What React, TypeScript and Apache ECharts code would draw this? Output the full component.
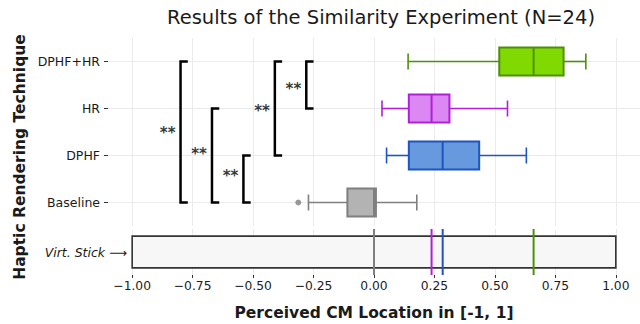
import React, { useEffect, useRef } from 'react';
import * as echarts from 'echarts';

// ---- data ----
const categories = ['Baseline', 'DPHF', 'HR', 'DPHF+HR'];
const whiskerLow = [-0.271, 0.052, 0.033, 0.141];
const quartile1 = [-0.11, 0.144, 0.144, 0.518];
const medians = [0.0, 0.284, 0.238, 0.66];
const quartile3 = [0.008, 0.435, 0.312, 0.784];
const whiskerHigh = [0.177, 0.63, 0.552, 0.876];
const outlierValues = [-0.313];
const outlierCategory = [0];
const xTicks = [-1, -0.75, -0.5, -0.25, 0, 0.25, 0.5, 0.75, 1];
const virtStickRange = [-1, 1];
const virtStickLabel = 'Virt. Stick';
const bracketFrom = [0, 0, 0, 1, 2];
const bracketTo = [3, 2, 1, 3, 3];
const bracketX = [-0.8, -0.67, -0.54, -0.41, -0.28];
const starY = [1.5, 1.05, 0.58, 1.97, 2.44];
const bracketLabels = ['**', '**', '**', '**', '**'];

const fills = ['#b3b3b3', '#6699dd', '#dc88f2', '#80d900'];
const edges = ['#7f7f7f', '#1f55c0', '#b020d8', '#4e8f0a'];

const FONT = 'DejaVu Sans';
const TXT = '#1a1a1a';

const fmtX = (v: number) => (v < 0 ? '\u2212' : '') + Math.abs(v).toFixed(2);

export default function App() {
  const ref = useRef<HTMLDivElement>(null);
  useEffect(() => {
    document.body.style.margin = '0';
    const chart = echarts.init(ref.current!, undefined, { renderer: 'svg' });
    const armLen = 0.03;

    const boxRows = categories.map((_, i) => [i, whiskerLow[i], quartile1[i], medians[i], quartile3[i], whiskerHigh[i]]);

    const bracketSeries = bracketX.map((bx, i) => ({
      type: 'line',
      xAxisIndex: 0,
      yAxisIndex: 0,
      data: [
        [bx + armLen, bracketFrom[i]],
        [bx, bracketFrom[i]],
        [bx, bracketTo[i]],
        [bx + armLen, bracketTo[i]],
      ],
      showSymbol: false,
      symbol: 'none',
      silent: true,
      lineStyle: { color: '#000', width: 2.5, cap: 'butt', join: 'miter' },
      z: 5,
    }));

    const option: any = {
      animation: false,
      backgroundColor: '#fff',
      textStyle: { fontFamily: FONT },
      grid: [
        { left: 108, top: 38, width: 534, height: 188 },
        { left: 108, top: 229, width: 534, height: 46 },
      ],
      xAxis: [
        {
          type: 'value', gridIndex: 0, min: -1.1, max: 1.1, position: 'bottom',
          axisLine: { show: false, onZero: false },
          axisTick: { show: false, customValues: xTicks },
          axisLabel: { show: false, customValues: xTicks },
          splitLine: { show: true, lineStyle: { color: '#ebebeb', width: 1 } },
        },
        {
          type: 'value', gridIndex: 1, min: -1.1, max: 1.1, position: 'bottom',
          axisLine: { show: false, onZero: false },
          axisTick: { show: true, customValues: xTicks, length: 3, lineStyle: { color: '#333' } },
          axisLabel: { show: true, customValues: xTicks, formatter: fmtX, fontSize: 12.3, color: TXT, fontFamily: FONT, margin: 5 },
          splitLine: { show: true, lineStyle: { color: '#ebebeb', width: 1 } },
          name: 'Perceived CM Location in [-1, 1]',
          nameLocation: 'middle',
          nameGap: 30,
          nameTextStyle: { fontSize: 15.5, fontWeight: 'bold', color: TXT, fontFamily: FONT },
        },
      ],
      yAxis: [
        {
          type: 'value', gridIndex: 0, min: -0.5, max: 3.5, position: 'left',
          axisLine: { show: false, onZero: false },
          axisTick: { show: true, customValues: [0, 1, 2, 3], length: 4, lineStyle: { color: '#333' } },
          axisLabel: {
            show: true, customValues: [0, 1, 2, 3], formatter: (v: number) => categories[Math.round(v)],
            fontSize: 12.5, color: TXT, fontFamily: FONT, margin: 8,
          },
          splitLine: { show: true, lineStyle: { color: '#ebebeb', width: 1 } },
        },
        {
          type: 'value', gridIndex: 1, min: -0.5, max: 0.5, position: 'left',
          axisLine: { show: false, onZero: false },
          axisTick: { show: false, customValues: [0] },
          axisLabel: {
            show: true, customValues: [0], formatter: () => virtStickLabel + ' \u27F6',
            fontSize: 12.5, fontStyle: 'italic', color: TXT, fontFamily: FONT, margin: -19,
          },
          splitLine: { show: false },
        },
      ],
      graphic: [
        {
          type: 'text', x: 381, y: 17,
          style: { text: 'Results of the Similarity Experiment (N=24)', fontSize: 19.5, fontFamily: FONT, fill: TXT, align: 'center', verticalAlign: 'middle' },
        },
        {
          type: 'text', x: 20, y: 157, rotation: Math.PI / 2,
          style: { text: 'Haptic Rendering Technique', fontSize: 15.5, fontWeight: 'bold', fontFamily: FONT, fill: TXT, align: 'center', verticalAlign: 'middle' },
        },
      ],
      series: [
        {
          type: 'custom',
          xAxisIndex: 0, yAxisIndex: 0,
          data: boxRows,
          encode: { x: [1, 2, 3, 4, 5], y: 0 },
          z: 3,
          renderItem: (params: any, api: any) => {
            const cat = api.value(0);
            const i = params.dataIndex;
            const band = api.size([0, 1])[1];
            const boxH = band * 0.6;
            const capH = band * 0.34;
            const pLo = api.coord([api.value(1), cat]);
            const pQ1 = api.coord([api.value(2), cat]);
            const pMed = api.coord([api.value(3), cat]);
            const pQ3 = api.coord([api.value(4), cat]);
            const pHi = api.coord([api.value(5), cat]);
            const y = pLo[1];
            const edge = edges[i];
            const ws = { stroke: edge, lineWidth: 1.6 };
            return {
              type: 'group',
              children: [
                { type: 'line', shape: { x1: pLo[0], y1: y, x2: pQ1[0], y2: y }, style: ws },
                { type: 'line', shape: { x1: pQ3[0], y1: y, x2: pHi[0], y2: y }, style: ws },
                { type: 'line', shape: { x1: pLo[0], y1: y - capH / 2, x2: pLo[0], y2: y + capH / 2 }, style: ws },
                { type: 'line', shape: { x1: pHi[0], y1: y - capH / 2, x2: pHi[0], y2: y + capH / 2 }, style: ws },
                {
                  type: 'rect',
                  shape: { x: pQ1[0], y: y - boxH / 2, width: pQ3[0] - pQ1[0], height: boxH },
                  style: { fill: fills[i], stroke: edge, lineWidth: 2 },
                },
                { type: 'line', shape: { x1: pMed[0], y1: y - boxH / 2, x2: pMed[0], y2: y + boxH / 2 }, style: { stroke: edge, lineWidth: 2 } },
              ],
            };
          },
        },
        {
          type: 'scatter',
          xAxisIndex: 0, yAxisIndex: 0,
          data: outlierValues.map((v, i) => [v, outlierCategory[i]]),
          symbolSize: 6,
          itemStyle: { color: edges[0] },
          z: 4,
        },
        ...bracketSeries,
        {
          type: 'scatter',
          xAxisIndex: 0, yAxisIndex: 0,
          data: starY.map((y, i) => [bracketX[i], y]),
          symbolSize: 0,
          itemStyle: { color: 'transparent' },
          label: {
            show: true, position: 'left', distance: 5, offset: [0, 1],
            formatter: (p: any) => bracketLabels[p.dataIndex],
            fontSize: 15, fontWeight: 'bold', color: '#000', fontFamily: FONT,
          },
          z: 6,
        },
        {
          type: 'custom',
          xAxisIndex: 1, yAxisIndex: 1,
          data: [[virtStickRange[0], virtStickRange[1]]],
          encode: { x: [0, 1] },
          z: 2,
          renderItem: (params: any, api: any) => {
            const a = api.coord([api.value(0), 0]);
            const b = api.coord([api.value(1), 0]);
            const h = api.size([0, 1])[1] * 0.69;
            return {
              type: 'rect',
              shape: { x: a[0], y: a[1] - h / 2, width: b[0] - a[0], height: h },
              style: { fill: '#f7f7f7', stroke: '#333', lineWidth: 1.6 },
            };
          },
        },
        {
          type: 'custom',
          xAxisIndex: 1, yAxisIndex: 1,
          data: medians.map((m, i) => [m, i]),
          encode: { x: 0 },
          z: 3,
          renderItem: (params: any, api: any) => {
            const p = api.coord([api.value(0), 0]);
            const cs = params.coordSys;
            return {
              type: 'line',
              shape: { x1: p[0], y1: cs.y, x2: p[0], y2: cs.y + cs.height },
              style: { stroke: edges[params.dataIndex], lineWidth: 2 },
            };
          },
        },
      ],
    };
    chart.setOption(option);
    return () => chart.dispose();
  }, []);
  return <div ref={ref} style={{ width: 640, height: 324 }} />;
}
